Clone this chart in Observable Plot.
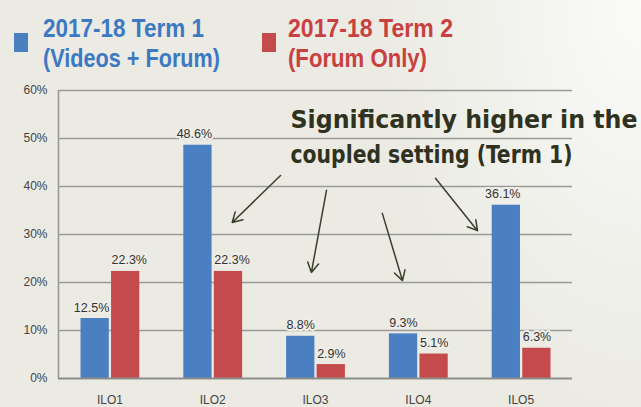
<!DOCTYPE html>
<html>
<head>
<meta charset="utf-8">
<script src="https://cdn.jsdelivr.net/npm/d3@7"></script>
<script src="https://cdn.jsdelivr.net/npm/@observablehq/plot@0.6"></script>
<style>
  html, body { margin: 0; padding: 0; }
  body {
    width: 641px; height: 407px; overflow: hidden; position: relative;
    background: radial-gradient(ellipse 260px 420px at 100% 0%, #fbfbf9 0%, #f3f3ef 45%, rgba(236,235,228,0) 100%), #ebeae3;
    font-family: "Liberation Sans", Arial, sans-serif;
  }
  .leg { position: absolute; font-size: 26px; font-weight: bold; line-height: 30px; white-space: nowrap; transform-origin: 0 0; }
  .sw { position: absolute; width: 14px; height: 19px; }
  #chart { position: absolute; left: 0; top: 75px; }
</style>
</head>
<body>
<div id="legend"></div>
<div id="chart"></div>
<script>
// ---- data ----
const categories = ["ILO1", "ILO2", "ILO3", "ILO4", "ILO5"];
const term1 = [0.125, 0.486, 0.088, 0.093, 0.361]; // 2017-18 Term 1 (Videos + Forum)
const term2 = [0.223, 0.223, 0.029, 0.051, 0.063]; // 2017-18 Term 2 (Forum Only)
const seriesNames = ["2017-18 Term 1", "2017-18 Term 2"];
const seriesSub = ["(Videos + Forum)", "(Forum Only)"];
const yTicks = [0, 0.1, 0.2, 0.3, 0.4, 0.5, 0.6];
const annotationLines = ["Significantly higher in the", "coupled setting (Term 1)"];
// annotation anchor (in data units: category index, share)
const annotationPos = [{x: 1.757, y: 0.539}, {x: 1.757, y: 0.466}];
// arrows from the annotation to the Term 1 bars (data units)
const arrows = [
  {x1: 1.66, y1: 0.423, x2: 1.19, y2: 0.325},
  {x1: 2.107, y1: 0.392, x2: 1.96, y2: 0.221},
  {x1: 2.65, y1: 0.344, x2: 2.846, y2: 0.204},
  {x1: 3.167, y1: 0.417, x2: 3.576, y2: 0.308}
];

const colors = ["#4a7fc2", "#c44a4c"];
const textColors = ["#3d79c3", "#c9413f"];

// ---- legend (HTML) ----
const legend = document.getElementById("legend");
const legPos = [{sq: 14, tx: 43, w: [161, 177]}, {sq: 262, tx: 288, w: [165, 139]}];
seriesNames.forEach((n, k) => {
  const sw = document.createElement("div");
  sw.className = "sw";
  sw.style.left = legPos[k].sq + "px";
  sw.style.top = "33px";
  sw.style.background = colors[k];
  legend.appendChild(sw);
  [n, seriesSub[k]].forEach((txt, j) => {
    const t = document.createElement("div");
    t.className = "leg";
    t.style.left = legPos[k].tx + "px";
    t.style.top = (13 + j * 30) + "px";
    t.style.color = textColors[k];
    t.textContent = txt;
    legend.appendChild(t);
    const s = legPos[k].w[j] / t.getBoundingClientRect().width;
    t.style.transform = `scaleX(${s})`;
  });
});

// ---- table ----
const rows = [];
categories.forEach((c, i) => {
  rows.push({i, cat: c, series: 0, value: term1[i]});
  rows.push({i, cat: c, series: 1, value: term2[i]});
});
const BW = 0.275, GAP = 0.012;
const x1 = d => d.series === 0 ? d.i - GAP / 2 - BW : d.i + GAP / 2 + 0.01;
const x2 = d => d.series === 0 ? d.i - GAP / 2 : d.i + GAP / 2 + 0.01 + BW;
const fmt = d3.format(".1%");
const labelStyle = {dy: -11, fill: "#333", fontSize: 12.5, stroke: "#eeede7", strokeWidth: 4};

const chart = Plot.plot({
  width: 641,
  height: 332,
  marginLeft: 58,
  marginRight: 69,
  marginTop: 15,
  marginBottom: 29,
  style: {background: "transparent", fontFamily: "Liberation Sans, Arial, sans-serif", fontSize: "12px", color: "#444", overflow: "visible"},
  x: {domain: [-0.5, 4.5], axis: null},
  y: {domain: [0, 0.6], axis: null},
  marks: [
    Plot.ruleY(yTicks.slice(1), {stroke: "#9a9a98", strokeWidth: 1.6}),
    Plot.ruleX([-0.5], {y1: 0, y2: 0.6, stroke: "#9a9a98", strokeWidth: 1.6}),
    Plot.rectY(rows, {x1, x2, y1: 0, y2: "value", fill: d => colors[d.series]}),
    Plot.ruleY([0], {stroke: "#8d8d8b", strokeWidth: 2}),
    Plot.text(yTicks, {x: -0.5, y: d => d, text: d => d3.format(".0%")(d), textAnchor: "end", dx: -11, fill: "#444", fontSize: 12}),
    Plot.text(categories, {x: (d, i) => i, y: 0, text: d => d, dy: 22, fill: "#444", fontSize: 12}),
    Plot.text(rows.filter(d => d.series === 0), {x: x2, y: "value", text: d => fmt(d.value), textAnchor: "end", ...labelStyle}),
    Plot.text(rows.filter(d => d.series === 1), {x: x1, y: "value", text: d => fmt(d.value), textAnchor: "start", ...labelStyle}),
    Plot.arrow(arrows, {x1: "x1", y1: "y1", x2: "x2", y2: "y2", stroke: "#3c3e2c", strokeWidth: 1.5, headLength: 11}),
    Plot.text(annotationLines, {
      x: (d, i) => annotationPos[i].x, y: (d, i) => annotationPos[i].y, text: d => d,
      textAnchor: "start", fill: "#2f321f", fontSize: 25, fontWeight: "bold",
      fontFamily: "DejaVu Sans Condensed, DejaVu Sans, sans-serif"
    })
  ]
});
document.getElementById("chart").appendChild(chart);
// stretch annotation lines to the reference widths
const widths = [347, 282];
d3.select(chart).selectAll("text").each(function() {
  const k = annotationLines.indexOf(this.textContent);
  if (k >= 0) d3.select(this).attr("textLength", widths[k]).attr("lengthAdjust", "spacingAndGlyphs");
});
</script>
</body>
</html>
